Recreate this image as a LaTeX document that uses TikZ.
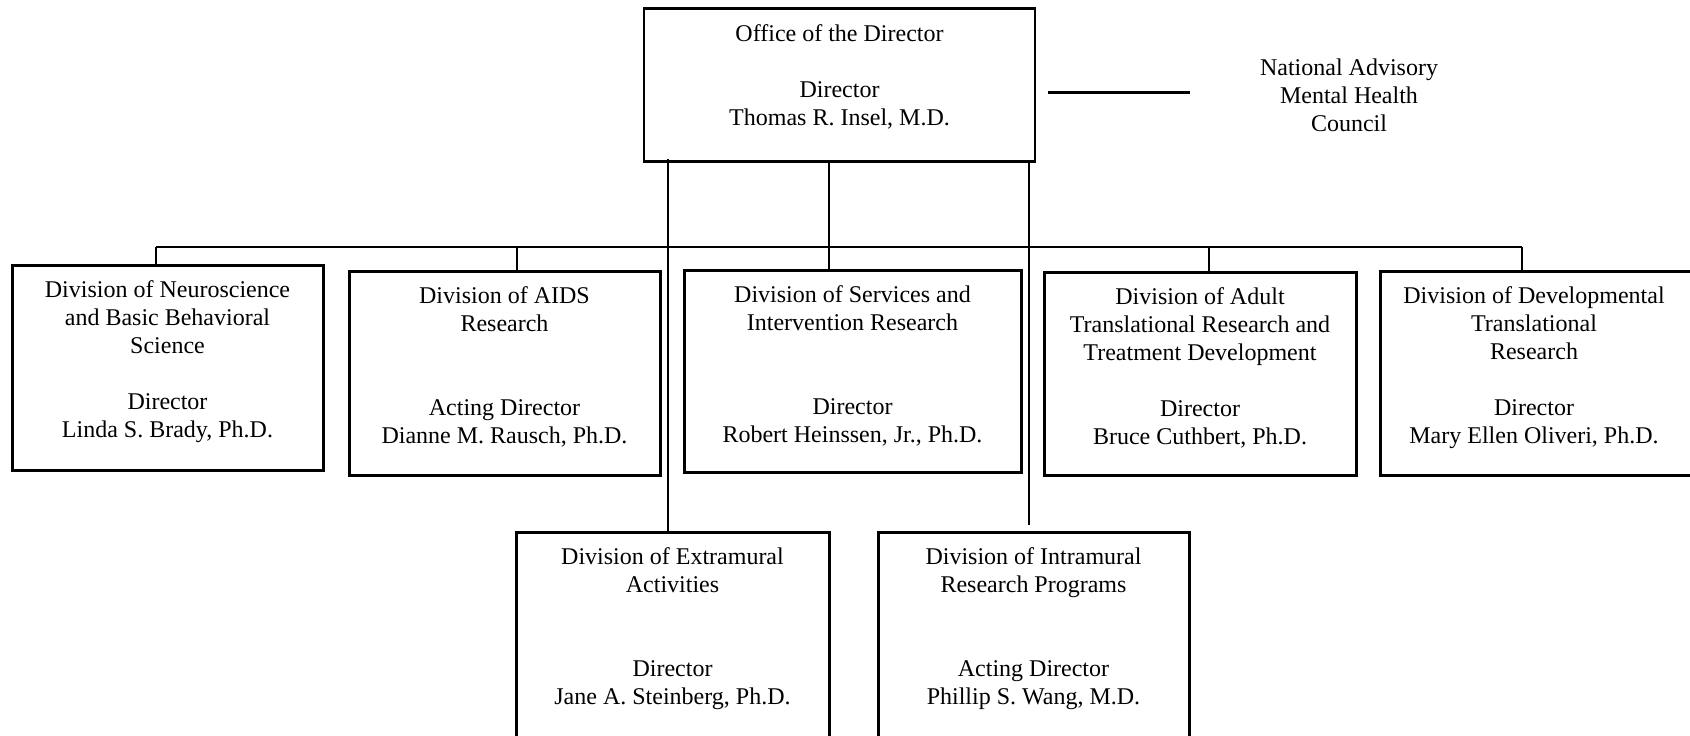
\documentclass[tikz,border=0pt]{standalone}
\usepackage{fontspec}
\setmainfont{Liberation Serif}
\begin{document}
\begin{tikzpicture}[x=0.5pt,y=-0.5pt,
		unit/.style={draw,line width=1.5pt,inner sep=0pt},
		unittext/.style={anchor=north,align=center,inner sep=0pt,font=\fontsize{12}{14}\selectfont},
		link/.style={line width=0.8pt}]
		\useasboundingbox (0,0) rectangle (1690,735);
		
		\node[unit,line width=1.2pt,minimum width=195.5pt,minimum height=76.5pt] (office) at (839.5,85) {};
		\foreach \n/\x/\y/\w/\h in {neuro/167.5/367.5/155.5/102.5, aids/504.5/373/155.5/102, services/852.5/371/168.5/101,
			adult/1200/373.5/156/101.5, devel/1540/373/160/102, extra/672.5/638.5/156.5/106.5, intra/1033.5/638.5/155.5/106.5}{
			\node[unit,minimum width=\w pt,minimum height=\h pt] (\n) at (\x,\y) {};
		}
		
		\node[unittext] (officet) at ([yshift=-8.3pt]office.north) {Office of the Director\\[14pt]Director\\Thomas R. Insel, M.D.};
		\node[unittext] (council) at (1349,58.6) {National Advisory\\Mental Health\\Council};
		\node[unittext] (neurot) at ([yshift=-8.3pt]neuro.north) {Division of Neuroscience\\and Basic Behavioral\\Science\\[14pt]Director\\Linda S. Brady, Ph.D.};
		\node[unittext] (aidst) at ([yshift=-8.3pt]aids.north) {Division of AIDS\\Research\\[28pt]Acting Director\\Dianne M. Rausch, Ph.D.};
		\node[unittext] (servicest) at ([yshift=-8.3pt]services.north) {Division of Services and\\Intervention Research\\[28pt]Director\\Robert Heinssen, Jr., Ph.D.};
		\node[unittext] (adultt) at ([yshift=-8.3pt]adult.north) {Division of Adult\\Translational Research and\\Treatment Development\\[14pt]Director\\Bruce Cuthbert, Ph.D.};
		\node[unittext] (develt) at ([xshift=-3pt,yshift=-8.3pt]devel.north) {Division of Developmental\\Translational\\Research\\[14pt]Director\\Mary Ellen Oliveri, Ph.D.};
		\node[unittext] (extrat) at ([yshift=-8.3pt]extra.north) {Division of Extramural\\Activities\\[28pt]Director\\Jane A. Steinberg, Ph.D.};
		\node[unittext] (intrat) at ([yshift=-8.3pt]intra.north) {Division of Intramural\\Research Programs\\[28pt]Acting Director\\Phillip S. Wang, M.D.};
		
		% council
		\draw[line width=1.1pt] ([xshift=6pt,yshift=1.5pt]office.east |- council.west) -- ([xshift=-35pt,yshift=1.5pt]council.west);
		
		% divisions
		\coordinate (hub) at (829,247);
		\draw[line width=1.2pt] (office.south -| hub) -- (services.north -| hub);
		\draw[line width=1.1pt] (156,247) -- (1522,247);
		\foreach \n/\x in {neuro/156, aids/517, adult/1209, devel/1522}{
			\draw[line width=1pt] (\x,247) -- (\n.north -| \x,0);
		}
		\draw[link] ([xshift=-2.25pt]extra.north) -- ([xshift=-2.25pt,yshift=2pt]extra.north |- office.south);
		\draw[link] ([xshift=-2.25pt,yshift=3pt]intra.north) -- ([xshift=-2.25pt]intra.north |- office.south);
\end{tikzpicture}
\end{document}
